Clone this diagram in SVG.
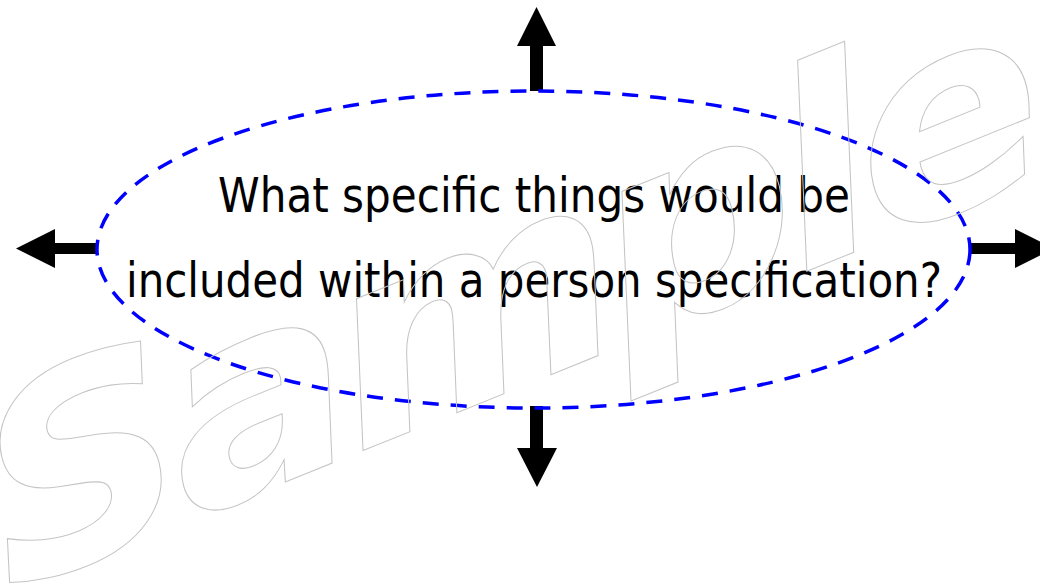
<svg xmlns="http://www.w3.org/2000/svg" width="1040" height="584" viewBox="0 0 1040 584">
<style>
.arrow{fill:#000;stroke:none}
.q{font-family:"DejaVu Sans Condensed","DejaVu Sans",sans-serif;font-size:48px;fill:#000;text-anchor:middle}
.wm{font-family:"DejaVu Sans",sans-serif;font-weight:bold;font-style:italic;font-size:262px;fill:none;stroke:#c4c4c4;stroke-width:1}
</style>
<rect width="1040" height="584" fill="#fff"/>
<g id="connectors">
<polygon class="arrow" points="530,91 530,46 517,46 536.5,7 556,46 543,46 543,91"/>
<polygon class="arrow" points="530,406 530,448 517,448 537,487 557,448 543,448 543,406"/>
<polygon class="arrow" points="97,243 55,243 55,229 16,248.5 55,268 55,254 97,254"/>
<polygon class="arrow" points="970,243 1015,243 1015,229 1054,248.5 1015,268 1015,254 970,254"/>
</g>
<g id="node-question">
<ellipse cx="533.5" cy="249.5" rx="436.5" ry="158.5" fill="none" stroke="#0000ff" stroke-width="3.5" stroke-dasharray="16 12"/>
<text class="q" x="534" y="212" textLength="632" lengthAdjust="spacingAndGlyphs">What specific things would be</text>
<text class="q" x="534" y="297" textLength="816" lengthAdjust="spacingAndGlyphs">included within a person specification?</text>
</g>
<g id="watermark">
<text class="wm" transform="translate(8,594) rotate(-22) skewX(-8) scale(1.1,1)" x="0" y="0" textLength="1030" lengthAdjust="spacing">Sample</text>
</g>
</svg>
